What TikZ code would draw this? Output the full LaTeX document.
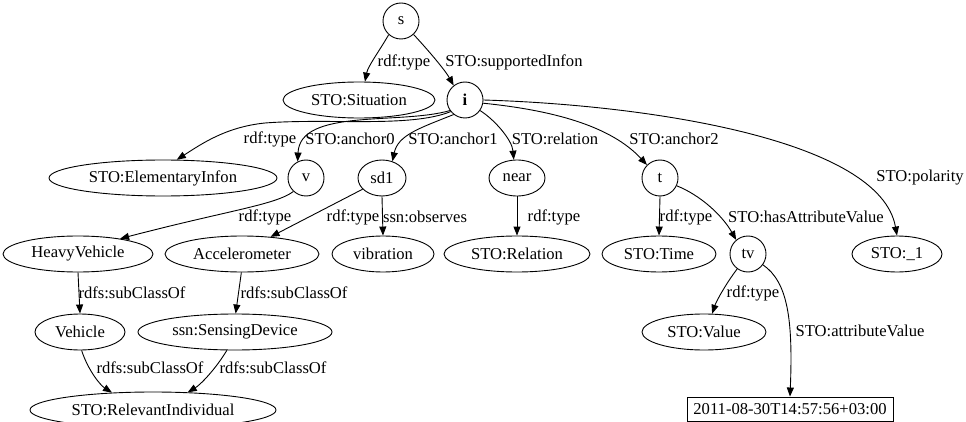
\documentclass[tikz,border=0pt]{standalone}
\usepackage{fontspec}
\setmainfont{Liberation Serif}
\usetikzlibrary{arrows.meta,shapes.geometric}
\begin{document}
\begin{tikzpicture}[x=1pt,y=-1pt,
  every node/.style={font=\fontsize{16.6}{19}\selectfont},
  ell/.style={draw,ellipse,inner sep=0pt,minimum height=36pt,line width=0.9pt},
  circ/.style={draw,circle,inner sep=0pt,minimum size=36pt,line width=0.9pt},
  box/.style={draw,rectangle,inner sep=0pt,minimum height=24pt,line width=0.9pt},
  lbl/.style={inner sep=0pt},
  edge/.style={draw,line width=0.9pt,-{Triangle[length=9pt,width=7pt]}}]
\useasboundingbox (0,0) rectangle (966,422);
% nodes
\node[circ] (s) at (401,21) {s};
\node[ell,minimum width=152pt] (sit) at (359,100) {STO:Situation};
\node[circ] (i) at (465,100) {\textbf{i}};
\node[ell,minimum width=228pt] (ei) at (163,178) {STO:ElementaryInfon};
\node[circ] (v) at (306,178) {v};
\node[ell,minimum width=48pt] (sd1) at (382,178) {sd1};
\node[ell,minimum width=56pt] (near) at (517,178) {near};
\node[circ] (t) at (660,178) {t};
\node[ell,minimum width=90pt] (p1) at (897,254) {STO:\_1};
\node[ell,minimum width=150pt] (hv) at (78,254) {HeavyVehicle};
\node[ell,minimum width=154pt] (acc) at (242,254) {Accelerometer};
\node[ell,minimum width=102pt] (vib) at (383,254) {vibration};
\node[ell,minimum width=146pt] (rel) at (517,254) {STO:Relation};
\node[ell,minimum width=114pt] (time) at (659,254) {STO:Time};
\node[circ] (tv) at (748,254) {tv};
\node[ell,minimum width=90pt] (veh) at (80,332) {Vehicle};
\node[ell,minimum width=194pt] (sd) at (235,332) {ssn:SensingDevice};
\node[ell,minimum width=124pt] (val) at (704,332) {STO:Value};
\node[ell,minimum width=246pt] (ri) at (153,410) {STO:RelevantIndividual};
\node[box,minimum width=206pt] (date) at (790,409) {2011-08-30T14:57:56+03:00};
% edges
\draw[edge] (s.228) .. controls (380,50) and (368,66) .. (sit.72);
\draw[edge] (s.-47) .. controls (428,50) and (445,70) .. (i.128);
\draw[edge] (i.219) .. controls (410,128) and (330,118) .. (265,123) .. controls (225,127) and (200,145) .. (ei.53);
\draw[edge] (i.215) .. controls (400,125) and (300,108) .. (v.117);
\draw[edge] (i.232) .. controls (420,128) and (398,135) .. (sd1.58);
\draw[edge] (i.-35) .. controls (495,120) and (512,140) .. (near.100);
\draw[edge] (i.-10) .. controls (550,110) and (610,125) .. (t.135);
\draw[edge] (i.0) .. controls (650,105) and (880,140) .. (p1.north);
\draw[edge] (v.227) .. controls (275,205) and (230,210) .. (hv.20);
\draw[edge] (sd1.210) -- (acc.31);
\draw[edge] (sd1.south) -- (vib.north);
\draw[edge] (near.south) -- (rel.north);
\draw[edge] (t.south) -- (time.north);
\draw[edge] (t.-25) .. controls (700,195) and (722,215) .. (tv.130);
\draw[edge] (hv.south) -- (veh.north);
\draw[edge] (acc.268) -- (sd.88);
\draw[edge] (veh.-85) .. controls (88,370) and (100,385) .. (ri.157);
\draw[edge] (sd.246) .. controls (215,370) and (200,385) .. (ri.27);
\draw[edge] (tv.234) .. controls (725,285) and (716,302) .. (val.66);
\draw[edge] (tv.-36) .. controls (788,282) and (793,320) .. (date.north);
% labels
\node[lbl] (l1) at (404,62) {rdf:type};
\node[lbl] (l2) at (514,62) {STO:supportedInfon};
\node[lbl] (l3) at (270,139) {rdf:type};
\node[lbl] (l4) at (350,139) {STO:anchor0};
\node[lbl] (l5) at (453,139) {STO:anchor1};
\node[lbl] (l6) at (555,139) {STO:relation};
\node[lbl] (l7) at (674,139) {STO:anchor2};
\node[lbl] (l8) at (920,178) {STO:polarity};
\node[lbl] (l9) at (265,217) {rdf:type};
\node[lbl] (l10) at (353,217) {rdf:type};
\node[lbl] (l11) at (425,217) {ssn:observes};
\node[lbl] (l12) at (554,217) {rdf:type};
\node[lbl] (l13) at (686,217) {rdf:type};
\node[lbl] (l14) at (806,217) {STO:hasAttributeValue};
\node[lbl] (l15) at (132,293) {rdfs:subClassOf};
\node[lbl] (l16) at (294,293) {rdfs:subClassOf};
\node[lbl] (l17) at (753,293) {rdf:type};
\node[lbl] (l18) at (150,368) {rdfs:subClassOf};
\node[lbl] (l19) at (273,368) {rdfs:subClassOf};
\node[lbl] (l20) at (860,331) {STO:attributeValue};
\end{tikzpicture}
\end{document}
